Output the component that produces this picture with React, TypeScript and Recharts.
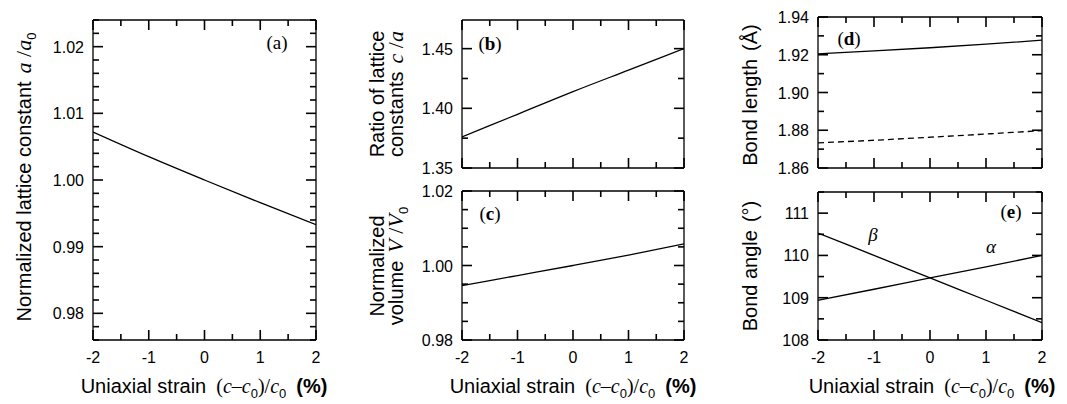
import React from 'react'
import { LineChart, Line, XAxis, YAxis } from 'recharts'

const W = 1067
const H = 404
const SANS = "'Liberation Sans', Arial, Helvetica, sans-serif"
const SERIF = "'Liberation Serif', 'Times New Roman', serif"

// strain (%) on every x axis
const strain = [-2, -1, 0, 1, 2]

// panel values
const latticeA = [1.0072, 1.0035, 1.0, 0.9966, 0.9933]
const ratioCA = [1.376, 1.395, 1.414, 1.432, 1.45]
const volume = [0.9946, 0.9973, 1.0, 1.0028, 1.0058]
const bondSolid = [1.9205, 1.922, 1.9237, 1.9256, 1.9277]
const bondDashed = [1.8733, 1.8747, 1.8763, 1.878, 1.8798]
const angleAlpha = [108.94, 109.2, 109.47, 109.73, 110.0]
const angleBeta = [110.53, 110.0, 109.47, 108.94, 108.41]

// labelled ticks
const xMajor = [-2, -1, 0, 1, 2]
const aMajor = [0.98, 0.99, 1.0, 1.01, 1.02]
const bMajor = [1.35, 1.4, 1.45]
const cMajor = [0.98, 1.0, 1.02]
const dMajor = [1.86, 1.88, 1.9, 1.92, 1.94]
const eMajor = [108, 109, 110, 111]

const steps = (lo: number, hi: number, step: number) => {
  const out: number[] = []
  const n = Math.round((hi - lo) / step)
  for (let i = 0; i <= n; i++) out.push(Math.round((lo + i * step) * 1e6) / 1e6)
  return out
}
const xTicks = steps(-2, 2, 0.5)

const rows = (cols: Record<string, number[]>) =>
  strain.map((x, i) => {
    const r: Record<string, number> = { x }
    Object.keys(cols).forEach(k => { r[k] = cols[k][i] })
    return r
  })

const AXIS = { stroke: '#000', strokeWidth: 1.3 }

// inward tick marks on all four sides, labels on major ticks (left/bottom only)
function Tick(props: any) {
  const { payload, side, major, digits, showLabel } = props
  const X = Number(props.x), Y = Number(props.y)
  const v = payload.value
  const isMajor = major.some((m: number) => Math.abs(m - v) < 1e-9)
  const len = isMajor ? 10 : 6
  let d = ''
  if (side === 'bottom') d = `M${X},${Y}V${Y - len}`
  else if (side === 'top') d = `M${X},${Y}V${Y + len}`
  else if (side === 'left') d = `M${X},${Y}H${X + len}`
  else d = `M${X},${Y}H${X - len}`
  let label = null
  if (showLabel && isMajor) {
    const txt = v.toFixed(digits)
    label = side === 'bottom'
      ? <text x={X} y={Y + 23} textAnchor="middle" fontSize={16} fontFamily={SANS} fill="#000" stroke="none">{txt}</text>
      : <text x={X - 9} y={Y + 6} textAnchor="end" fontSize={16} fontFamily={SANS} fill="#000" stroke="none">{txt}</text>
  }
  return (
    <g>
      <path d={d} stroke="#000" strokeWidth={1.6} fill="none" />
      {label}
    </g>
  )
}

type Rect = { x0: number; x1: number; y0: number; y1: number }
type Series = { key: string; dashed?: boolean }

function Panel({ rect, data, yDomain, yMajor, yMinor, yDigits, series, xLabels }: {
  rect: Rect; data: any[]; yDomain: [number, number]; yMajor: number[]; yMinor: number[]
  yDigits: number; series: Series[]; xLabels: boolean
}) {
  // each axis takes 1px, so the plot box lands on rect
  const margin = { left: rect.x0 - 1, top: rect.y0 - 1, right: W - rect.x1 - 1, bottom: H - rect.y1 - 1 }
  return (
    <div style={{ position: 'absolute', left: 0, top: 0 }}>
      <LineChart width={W} height={H} data={data} margin={margin}>
        <XAxis xAxisId="b" dataKey="x" type="number" domain={[-2, 2]} ticks={xTicks} interval={0}
          height={1} tickSize={0} tickMargin={0} tickLine={false} axisLine={AXIS} allowDataOverflow
          tick={<Tick side="bottom" major={xMajor} digits={0} showLabel={xLabels} />} />
        <XAxis xAxisId="t" orientation="top" dataKey="x" type="number" domain={[-2, 2]} ticks={xTicks} interval={0}
          height={1} tickSize={0} tickMargin={0} tickLine={false} axisLine={AXIS} allowDataOverflow
          tick={<Tick side="top" major={xMajor} digits={0} showLabel={false} />} />
        <YAxis yAxisId="l" type="number" domain={yDomain} ticks={yMinor} interval={0}
          width={1} tickSize={0} tickMargin={0} tickLine={false} axisLine={AXIS} allowDataOverflow
          tick={<Tick side="left" major={yMajor} digits={yDigits} showLabel />} />
        <YAxis yAxisId="r" orientation="right" type="number" domain={yDomain} ticks={yMinor} interval={0}
          width={1} tickSize={0} tickMargin={0} tickLine={false} axisLine={AXIS} allowDataOverflow
          tick={<Tick side="right" major={yMajor} digits={yDigits} showLabel={false} />} />
        {series.map(s => (
          <Line key={s.key} xAxisId="b" yAxisId="l" dataKey={s.key} type="monotone" stroke="#000"
            strokeWidth={1.3} strokeDasharray={s.dashed ? '6 4' : undefined} dot={false}
            activeDot={false} isAnimationActive={false} />
        ))}
      </LineChart>
    </div>
  )
}

const Sub = ({ children }: { children: React.ReactNode }) => (
  <tspan fontFamily={SANS} fontStyle="normal" fontSize={13} dy={5}>{children}</tspan>
)

function XLabel({ cx }: { cx: number }) {
  return (
    <text x={cx} y={393} textAnchor="middle" fontFamily={SANS} fontSize={20} fill="#000">
      Uniaxial strain
      <tspan dx={10} fontFamily={SERIF}>(</tspan>
      <tspan fontFamily={SERIF} fontStyle="italic">c</tspan>
      <tspan fontFamily={SERIF}>–</tspan>
      <tspan fontFamily={SERIF} fontStyle="italic">c</tspan>
      <Sub>0</Sub>
      <tspan dy={-5} fontFamily={SERIF}>)/</tspan>
      <tspan fontFamily={SERIF} fontStyle="italic">c</tspan>
      <Sub>0</Sub>
      <tspan dy={-5} dx={10} fontWeight="bold">(%)</tspan>
    </text>
  )
}

export default function App() {
  const dataA = rows({ a: latticeA })
  const dataB = rows({ ca: ratioCA })
  const dataC = rows({ v: volume })
  const dataD = rows({ s: bondSolid, d: bondDashed })
  const dataE = rows({ alpha: angleAlpha, beta: angleBeta })

  return (
    <div style={{ position: 'fixed', left: 0, top: 0, width: W, height: H, background: '#fff' }}>
      <Panel rect={{ x0: 93, x1: 316, y0: 20, y1: 340 }} data={dataA} yDomain={[0.976, 1.024]}
        yMajor={aMajor} yMinor={steps(0.976, 1.024, 0.002)} yDigits={2} series={[{ key: 'a' }]} xLabels />
      <Panel rect={{ x0: 462, x1: 684, y0: 20, y1: 168 }} data={dataB} yDomain={[1.35, 1.474]}
        yMajor={bMajor} yMinor={steps(1.35, 1.45, 0.025)} yDigits={2} series={[{ key: 'ca' }]} xLabels={false} />
      <Panel rect={{ x0: 462, x1: 684, y0: 191, y1: 340 }} data={dataC} yDomain={[0.98, 1.02]}
        yMajor={cMajor} yMinor={steps(0.98, 1.02, 0.005)} yDigits={2} series={[{ key: 'v' }]} xLabels />
      <Panel rect={{ x0: 818, x1: 1042, y0: 17, y1: 168 }} data={dataD} yDomain={[1.86, 1.94]}
        yMajor={dMajor} yMinor={steps(1.86, 1.94, 0.01)} yDigits={2}
        series={[{ key: 's' }, { key: 'd', dashed: true }]} xLabels={false} />
      <Panel rect={{ x0: 818, x1: 1042, y0: 192, y1: 340 }} data={dataE} yDomain={[108, 111.5]}
        yMajor={eMajor} yMinor={steps(108, 111.5, 0.5)} yDigits={0}
        series={[{ key: 'alpha' }, { key: 'beta' }]} xLabels />

      <svg width={W} height={H} style={{ position: 'absolute', left: 0, top: 0 }}>
        {/* y-axis titles */}
        <text transform="translate(31,177) rotate(-90)" textAnchor="middle" fontFamily={SANS} fontSize={20} fill="#000">
          Normalized lattice constant
          <tspan dx={8} fontFamily={SERIF} fontStyle="italic" fontSize={22}>a</tspan>
          <tspan fontFamily={SERIF} fontSize={22}> /</tspan>
          <tspan fontFamily={SERIF} fontStyle="italic" fontSize={22}>a</tspan>
          <Sub>0</Sub>
        </text>
        <text transform="translate(384,94) rotate(-90)" textAnchor="middle" fontFamily={SANS} fontSize={20} fill="#000">Ratio of lattice</text>
        <text transform="translate(403,94) rotate(-90)" textAnchor="middle" fontFamily={SANS} fontSize={20} fill="#000">
          constants
          <tspan dx={8} fontFamily={SERIF} fontStyle="italic" fontSize={22}>c</tspan>
          <tspan fontFamily={SERIF} fontSize={22}> /</tspan>
          <tspan fontFamily={SERIF} fontStyle="italic" fontSize={22}>a</tspan>
        </text>
        <text transform="translate(384,266) rotate(-90)" textAnchor="middle" fontFamily={SANS} fontSize={20} fill="#000">Normalized</text>
        <text transform="translate(403,266) rotate(-90)" textAnchor="middle" fontFamily={SANS} fontSize={20} fill="#000">
          volume
          <tspan dx={8} fontFamily={SERIF} fontStyle="italic" fontSize={22}>V</tspan>
          <tspan fontFamily={SERIF} fontSize={22}> /</tspan>
          <tspan fontFamily={SERIF} fontStyle="italic" fontSize={22}>V</tspan>
          <Sub>0</Sub>
        </text>
        <text transform="translate(757,95) rotate(-90)" textAnchor="middle" fontFamily={SANS} fontSize={20} fill="#000">
          Bond length<tspan dx={8}>(Å)</tspan>
        </text>
        <text transform="translate(757,266) rotate(-90)" textAnchor="middle" fontFamily={SANS} fontSize={20} fill="#000">
          Bond angle<tspan dx={8}>(°)</tspan>
        </text>

        {/* panel tags and curve names */}
        <text x={277} y={49} textAnchor="middle" fontFamily={SERIF} fontSize={19} fill="#000">(a)</text>
        <text x={490} y={50} textAnchor="middle" fontFamily={SERIF} fontSize={19} fill="#000">(<tspan fontWeight="bold">b</tspan>)</text>
        <text x={490} y={220} textAnchor="middle" fontFamily={SERIF} fontSize={19} fill="#000">(<tspan fontWeight="bold">c</tspan>)</text>
        <text x={849} y={45} textAnchor="middle" fontFamily={SERIF} fontSize={19} fill="#000">(<tspan fontWeight="bold">d</tspan>)</text>
        <text x={1011} y={218} textAnchor="middle" fontFamily={SERIF} fontSize={19} fill="#000">(<tspan fontWeight="bold">e</tspan>)</text>
        <text x={873} y={241} textAnchor="middle" fontFamily={SERIF} fontStyle="italic" fontSize={19} fill="#000">β</text>
        <text x={991} y={253} textAnchor="middle" fontFamily={SERIF} fontStyle="italic" fontSize={19} fill="#000">α</text>

        {/* x-axis titles */}
        <XLabel cx={204} />
        <XLabel cx={573} />
        <XLabel cx={932} />
      </svg>
    </div>
  )
}
